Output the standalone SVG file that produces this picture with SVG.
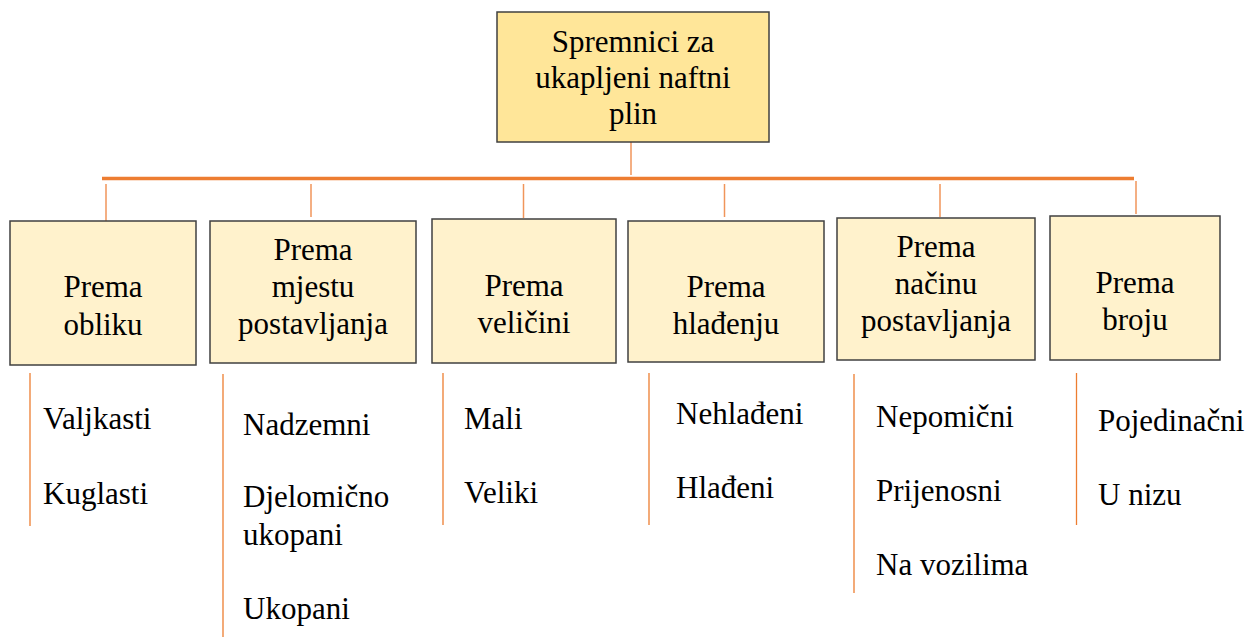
<svg xmlns="http://www.w3.org/2000/svg" width="1247" height="637" viewBox="0 0 1247 637">
<style>
text{font-family:'Liberation Serif','DejaVu Serif',serif;font-size:31px;fill:#000}
.c{text-anchor:middle}
.top{fill:#FFE699;stroke:#404040;stroke-width:1.5}
.box{fill:#FFF2CC;stroke:#404040;stroke-width:1.5}
.stub{stroke:#F0955A;stroke-width:1.5;fill:none}
.bar{stroke:#ED7D31;stroke-width:3.5;fill:none}
.leaf{stroke:#ED7D31;stroke-width:1.3;fill:none}
</style>
<rect width="1247" height="637" fill="#fff"/>
<g id="connectors">
<line class="stub" x1="631" y1="142" x2="631" y2="175"/>
<line class="bar" x1="102" y1="178.5" x2="1134" y2="178.5"/>
<line class="stub" x1="106" y1="184" x2="106" y2="221"/>
<line class="stub" x1="311" y1="184" x2="311" y2="217"/>
<line class="stub" x1="523.5" y1="184" x2="523.5" y2="218"/>
<line class="stub" x1="724.5" y1="184" x2="724.5" y2="217"/>
<line class="stub" x1="940" y1="184" x2="940" y2="217"/>
<line class="stub" x1="1136" y1="181" x2="1136" y2="214"/>
<line class="leaf" x1="30" y1="373" x2="30" y2="526"/>
<line class="leaf" x1="223" y1="374" x2="223" y2="637"/>
<line class="leaf" x1="443" y1="373" x2="443" y2="525"/>
<line class="leaf" x1="649" y1="373" x2="649" y2="525"/>
<line class="leaf" x1="854" y1="374" x2="854" y2="593"/>
<line class="leaf" x1="1076.5" y1="373" x2="1076.5" y2="525"/>
</g>
<g font-family="Liberation Serif, serif">
<g id="root">
<rect class="top" x="497" y="12" width="272" height="130"/>
<text class="c" x="633" y="52">Spremnici za</text>
<text class="c" x="633" y="88">ukapljeni naftni</text>
<text class="c" x="633" y="124">plin</text>
</g>
<g id="n1">
<rect class="box" x="10" y="221" width="186" height="144"/>
<text class="c" x="103" y="297">Prema</text>
<text class="c" x="103" y="335">obliku</text>
</g>
<g id="n2">
<rect class="box" x="210" y="221" width="206" height="142"/>
<text class="c" x="313" y="260">Prema</text>
<text class="c" x="313" y="297">mjestu</text>
<text class="c" x="313" y="334">postavljanja</text>
</g>
<g id="n3">
<rect class="box" x="432" y="219" width="184" height="144"/>
<text class="c" x="524" y="296">Prema</text>
<text class="c" x="524" y="333">veličini</text>
</g>
<g id="n4">
<rect class="box" x="628" y="221" width="196" height="141"/>
<text class="c" x="726" y="297">Prema</text>
<text class="c" x="726" y="334">hlađenju</text>
</g>
<g id="n5">
<rect class="box" x="837" y="218" width="198" height="142"/>
<text class="c" x="936" y="257">Prema</text>
<text class="c" x="936" y="294">načinu</text>
<text class="c" x="936" y="331">postavljanja</text>
</g>
<g id="n6">
<rect class="box" x="1050" y="216" width="170" height="144"/>
<text class="c" x="1135" y="293">Prema</text>
<text class="c" x="1135" y="330">broju</text>
</g>
<g id="leaves1">
<text x="43" y="429">Valjkasti</text>
<text x="43" y="504">Kuglasti</text>
</g>
<g id="leaves2">
<text x="243" y="435">Nadzemni</text>
<text x="243" y="507">Djelomično</text>
<text x="243" y="545">ukopani</text>
<text x="243" y="619">Ukopani</text>
</g>
<g id="leaves3">
<text x="464" y="429">Mali</text>
<text x="464" y="503">Veliki</text>
</g>
<g id="leaves4">
<text x="676" y="424">Nehlađeni</text>
<text x="676" y="498">Hlađeni</text>
</g>
<g id="leaves5">
<text x="876" y="427">Nepomični</text>
<text x="876" y="501">Prijenosni</text>
<text x="876" y="575">Na vozilima</text>
</g>
<g id="leaves6">
<text x="1098" y="431">Pojedinačni</text>
<text x="1098" y="505">U nizu</text>
</g>
</g>
</svg>
